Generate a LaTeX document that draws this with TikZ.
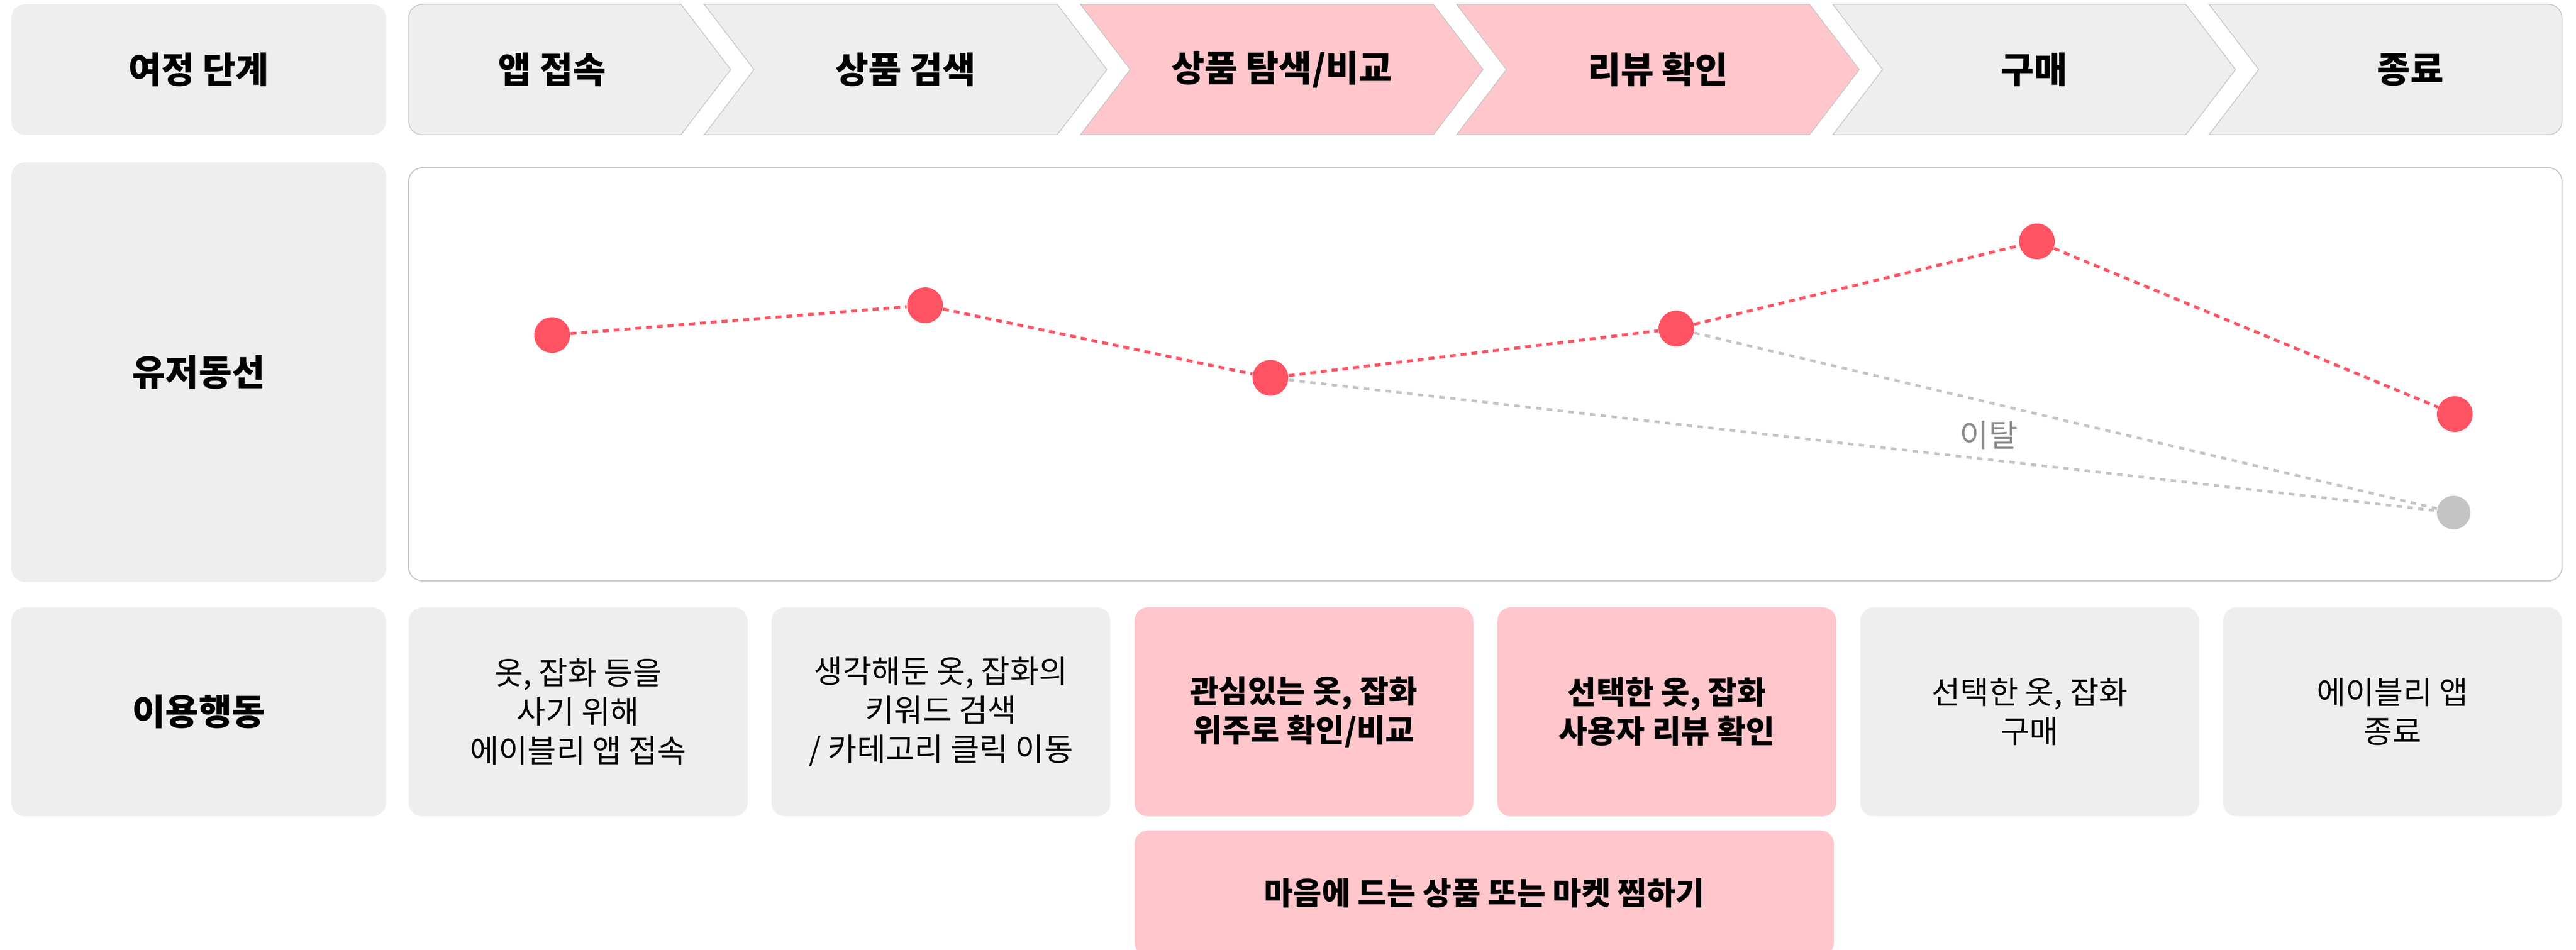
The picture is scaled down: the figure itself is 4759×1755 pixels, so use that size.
\documentclass[tikz,border=0pt]{standalone}
\usepackage{fontspec}
\setmainfont{Noto Sans CJK KR}
\usepackage{tikz}
\usepackage{xcolor}
\usetikzlibrary{positioning,shapes}
\definecolor{boxgray}{HTML}{EEEEEE}
\definecolor{boxpink}{HTML}{FFC6CC}
\definecolor{linegray}{HTML}{C8C8C8}
\definecolor{dotred}{HTML}{FF5364}
\definecolor{dotgray}{HTML}{C4C4C4}
\definecolor{textgray}{HTML}{8A8A8A}
\tikzset{%
	headfont/.style = {font=\fontsize{13.3}{16}\selectfont\bfseries},
	bodyfont/.style = {font=\fontsize{11.6}{14.4}\selectfont},
	rowlabel/.style = {fill=boxgray, rounded corners=5pt, minimum width=138.4pt, text centered, headfont},
	actbox/.style   = {fill=boxgray, rounded corners=5pt, minimum width=125.2pt, minimum height=77.2pt, align=center, bodyfont},
	hotbox/.style   = {actbox, fill=boxpink, font=\fontsize{11.6}{14.4}\selectfont\bfseries},
	chev/.style     = {draw=linegray, line width=0.3pt},
	spot/.style     = {circle, fill=dotred, minimum size=13.2pt, inner sep=0pt},
	gone/.style     = {circle, fill=dotgray, minimum size=12.4pt, inner sep=0pt},
	flow/.style     = {dotred, line width=1.1pt, dash pattern=on 2.2pt off 1.8pt},
	drop/.style     = {dotgray, line width=1pt, dash pattern=on 2pt off 2pt},
}
\begin{document}
\begin{tikzpicture}[x=0.2pt,y=0.2pt]
	\useasboundingbox (0,0) rectangle (4759,1755);
	\clip (0,0) rectangle (4759,1755);
	% row labels
	\node[rowlabel, minimum height=48.2pt] (lbstage) at (367,1626.5) {여정 단계};
	\node[rowlabel, minimum height=155pt] (lbflow) at (367,1067.5) {유저동선};
	\node[rowlabel, minimum height=77.2pt] (lbact) at (367,440) {이용행동};
	% stages
	\draw[chev, fill=boxgray] (780,1747) -- (1258,1747) -- (1350,1626.5) -- (1258,1506) -- (780,1506) arc[start angle=270, end angle=180, radius=5pt] -- (755,1722) arc[start angle=180, end angle=90, radius=5pt] -- cycle;
	\foreach \k/\col in {2/boxgray,3/boxpink,4/boxpink,5/boxgray}
		\draw[chev, fill=\col] ({1301+695*(\k-2)},1747) -- ({1258+695*(\k-1)},1747) -- ({1350+695*(\k-1)},1626.5) -- ({1258+695*(\k-1)},1506) -- ({1301+695*(\k-2)},1506) -- ({1393+695*(\k-2)},1626.5) -- cycle;
	\draw[chev, fill=boxgray] (4081,1747) -- (4708,1747) arc[start angle=90, end angle=0, radius=5pt] -- (4733,1531) arc[start angle=0, end angle=-90, radius=5pt] -- (4081,1506) -- (4173,1626.5) -- cycle;
	\node[headfont] (st1) at (1020,1626.5) {앱 접속};
	\node[headfont] (st2) at (1673,1626.5) {상품 검색};
	\node[headfont] (st3) at (2368,1626.5) {상품 탐색/비교};
	\node[headfont] (st4) at (3063,1626.5) {리뷰 확인};
	\node[headfont] (st5) at (3758,1626.5) {구매};
	\node[headfont] (st6) at (4453,1626.5) {종료};
	% user flow
	\node[draw=linegray, line width=0.4pt, rounded corners=5pt, fill=white, minimum width=795.6pt, minimum height=152.6pt] (chart) at (2744,1063.5) {};
	\node[spot] (p1) at (1020,1136) {};
	\node[spot] (p2) at (1709,1191) {};
	\node[spot] (p3) at (2347,1057) {};
	\node[spot] (p4) at (3097,1148) {};
	\node[spot] (p5) at (3763,1309) {};
	\node[spot] (p6) at (4535,990) {};
	\node[gone] (q) at (4533,808) {};
	\draw[drop] (p3) -- (q);
	\draw[drop] (p4) -- (q);
	\draw[flow] (p1) -- (p2) -- (p3) -- (p4) -- (p5) -- (p6);
	\node[bodyfont, text=textgray] (droplabel) at (3674,951) {이탈};
	% actions
	\foreach \i/\sty/\txt in {1/actbox/{옷, 잡화 등을\\사기 위해\\에이블리 앱 접속},
			2/actbox/{생각해둔 옷, 잡화의\\키워드 검색\\/ 카테고리 클릭 이동},
			3/hotbox/{관심있는 옷, 잡화\\위주로 확인/비교},
			4/hotbox/{선택한 옷, 잡화\\사용자 리뷰 확인},
			5/actbox/{선택한 옷, 잡화\\구매},
			6/actbox/{에이블리 앱\\종료}}
		\node[\sty] (act\i) at ({1068+670.4*(\i-1)},440) {\txt};
	\node[hotbox, minimum width=258.4pt, minimum height=46.4pt] (wish) at (2742,105) {마음에 드는 상품 또는 마켓 찜하기};
\end{tikzpicture}
\end{document}
